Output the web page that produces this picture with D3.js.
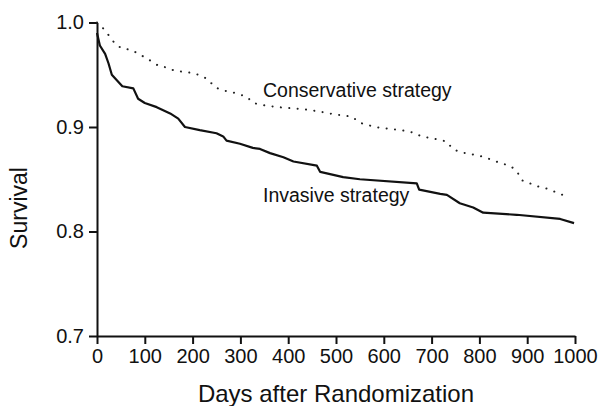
<!DOCTYPE html>
<html>
<head>
<meta charset="utf-8">
<script src="https://cdn.jsdelivr.net/npm/d3@7"></script>
<style>
  body { margin: 0; background: #fff; }
  text { font-family: "Liberation Sans", Arial, sans-serif; fill: #111; }
</style>
</head>
<body>
<div id="chart"></div>
<script>
// values: [day, survival]
var invasive = [
  [0, 0.990], [6, 0.978], [17, 0.970], [24, 0.961], [31, 0.950], [41, 0.945],
  [53, 0.939], [76, 0.937], [86, 0.927], [100, 0.923], [125, 0.919], [153, 0.913],
  [170, 0.908], [184, 0.900], [215, 0.897], [250, 0.894], [264, 0.891], [271, 0.887],
  [299, 0.884], [326, 0.880], [341, 0.879], [362, 0.875], [390, 0.871], [411, 0.867],
  [460, 0.863], [467, 0.857], [515, 0.852], [550, 0.850], [669, 0.846], [674, 0.840],
  [718, 0.836], [732, 0.835], [759, 0.827], [787, 0.823], [808, 0.818], [878, 0.816],
  [969, 0.812], [998, 0.808]
];
var conservative = [
  [0, 1.000], [16, 0.993], [29, 0.985], [39, 0.979], [53, 0.975], [70, 0.974],
  [88, 0.970], [102, 0.966], [118, 0.962], [130, 0.958], [147, 0.957], [161, 0.954],
  [177, 0.953], [195, 0.952], [212, 0.950], [231, 0.946], [247, 0.938], [264, 0.935],
  [285, 0.933], [313, 0.929], [327, 0.923], [345, 0.921], [379, 0.919], [432, 0.917],
  [463, 0.915], [498, 0.912], [533, 0.910], [550, 0.904], [582, 0.900], [617, 0.898],
  [651, 0.896], [665, 0.894], [679, 0.891], [714, 0.888], [732, 0.886], [744, 0.879],
  [759, 0.876], [794, 0.873], [812, 0.871], [829, 0.868], [847, 0.865], [864, 0.863],
  [878, 0.858], [889, 0.849], [906, 0.846], [923, 0.843], [941, 0.841], [958, 0.838],
  [974, 0.835]
];
var xTicks = [0, 100, 200, 300, 400, 500, 600, 700, 800, 900, 1000];
var yTicks = [0.7, 0.8, 0.9, 1.0];

var width = 601, height = 406;
var margin = {left: 97, right: 26, top: 22.5, bottom: 70};

var svg = d3.select("#chart").append("svg")
    .attr("width", width)
    .attr("height", height);

var x = d3.scaleLinear().domain([0, 1000]).range([margin.left, width - margin.right]);
var y = d3.scaleLinear().domain([0.7, 1.0]).range([height - margin.bottom, margin.top]);

var xAxis = svg.append("g")
    .attr("transform", "translate(0," + y(0.7) + ")")
    .call(d3.axisBottom(x).tickValues(xTicks).tickFormat(d3.format("d"))
        .tickSize(8).tickPadding(5).tickSizeOuter(0));
var yAxis = svg.append("g")
    .attr("transform", "translate(" + x(0) + ",0)")
    .call(d3.axisLeft(y).tickValues(yTicks).tickFormat(d3.format(".1f"))
        .tickSize(8).tickPadding(5).tickSizeOuter(0));

[xAxis, yAxis].forEach(function(g) {
    g.select(".domain").attr("stroke", "#111").attr("stroke-width", 2);
    g.selectAll(".tick line").attr("stroke", "#111").attr("stroke-width", 2);
    g.selectAll(".tick text")
        .attr("fill", "#111")
        .style("font-family", "'Liberation Sans', Arial, sans-serif")
        .style("font-size", "20px");
});

var line = d3.line()
    .x(function(d) { return x(d[0]); })
    .y(function(d) { return y(d[1]); });

svg.append("path")
    .datum(conservative)
    .attr("d", line)
    .attr("fill", "none")
    .attr("stroke", "#222")
    .attr("stroke-width", 2)
    .attr("stroke-linecap", "round")
    .attr("stroke-dasharray", "0.1 8.3");

svg.append("path")
    .datum(invasive)
    .attr("d", line)
    .attr("fill", "none")
    .attr("stroke", "#111")
    .attr("stroke-width", 2.2)
    .attr("stroke-linejoin", "round");

// series labels
svg.append("text")
    .attr("x", 263).attr("y", 96.5)
    .style("font-size", "19.5px")
    .text("Conservative strategy");
svg.append("text")
    .attr("x", 263).attr("y", 201.5)
    .style("font-size", "19.5px")
    .text("Invasive strategy");

// axis titles
svg.append("text")
    .attr("x", x(500)).attr("y", 402)
    .attr("text-anchor", "middle")
    .style("font-size", "24px")
    .text("Days after Randomization");
svg.append("text")
    .attr("transform", "translate(27,208) rotate(-90)")
    .attr("text-anchor", "middle")
    .style("font-size", "23px")
    .text("Survival");
</script>
</body>
</html>
